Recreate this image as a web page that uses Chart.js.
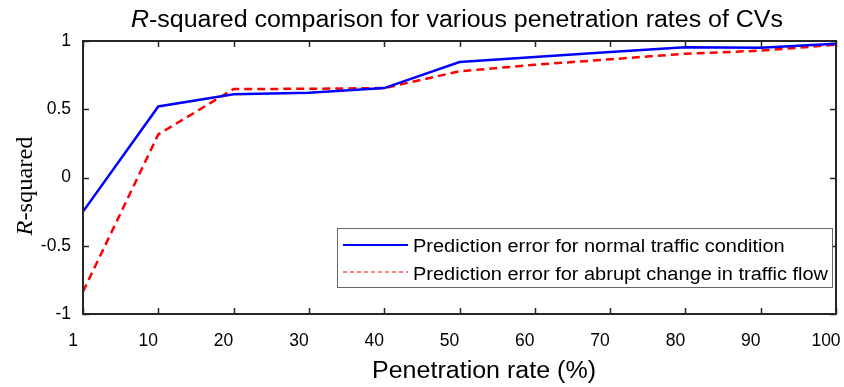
<!DOCTYPE html>
<html>
<head>
<meta charset="utf-8">
<script src="https://cdn.jsdelivr.net/npm/chart.js@4.4.1/dist/chart.umd.min.js"></script>
<style>
    html, body { margin: 0; padding: 0; background: #fff; }
    #wrap { width: 844px; height: 387px; position: relative; }
</style>
</head>
<body>
<div id="wrap"><canvas id="rsqChart"></canvas></div>

<script>
    // penetration rates (%) and R-squared values
    const rates = ["1", "10", "20", "30", "40", "50", "60", "70", "80", "90", "100"]
    const normalTraffic = [-0.25, 0.52, 0.61, 0.62, 0.655, 0.846, 0.883, 0.919, 0.954, 0.950, 0.980]
    const abruptChange = [-0.837, 0.316, 0.648, 0.650, 0.655, 0.778, 0.826, 0.866, 0.907, 0.929, 0.973]
    const seriesNames = ["Prediction error for normal traffic condition", "Prediction error for abrupt change in traffic flow"]
    const yTicks = [-1, -0.5, 0, 0.5, 1]

    const AXIS = "#262626"
    const SANS = "'Liberation Sans', Arial, sans-serif"
    const SERIF = "'Liberation Serif', 'Times New Roman', serif"

    // draws a run of [text, italic] parts centred on (cx, cy), squeezed/stretched to a width
    const drawParts = (ctx, parts, size, family, cx, cy, width) => {
        const widths = parts.map(([t, it]) => {
            ctx.font = (it ? "italic " : "") + size + "px " + family
            return ctx.measureText(t).width
        })
        const total = widths.reduce((a, b) => a + b, 0)
        const k = width ? width / total : 1
        ctx.save()
        ctx.translate(cx - total * k / 2, cy)
        ctx.scale(k, 1)
        ctx.textAlign = "left"
        ctx.textBaseline = "middle"
        let x = 0
        parts.forEach(([t, it], i) => {
            ctx.font = (it ? "italic " : "") + size + "px " + family
            ctx.fillText(t, x, 0)
            x += widths[i]
        })
        ctx.restore()
    }

    // frame, inward ticks, titles and the in-plot legend
    const decorations = {
        id: "decorations",
        afterDatasetsDraw(chart) {
            const { ctx, chartArea: a, scales } = chart
            ctx.save()
            ctx.strokeStyle = AXIS
            ctx.lineWidth = 2
            ctx.strokeRect(a.left, a.top, a.right - a.left, a.bottom - a.top)

            ctx.lineWidth = 1.5
            ctx.beginPath()
            scales.x.ticks.forEach((t, i) => {
                const px = Math.round(scales.x.getPixelForTick(i)) + 0.5
                ctx.moveTo(px, a.bottom); ctx.lineTo(px, a.bottom - 6)
                ctx.moveTo(px, a.top); ctx.lineTo(px, a.top + 6)
            })
            yTicks.forEach(v => {
                const py = Math.round(scales.y.getPixelForValue(v)) + 0.5
                ctx.moveTo(a.left, py); ctx.lineTo(a.left + 6, py)
                ctx.moveTo(a.right, py); ctx.lineTo(a.right - 6, py)
            })
            ctx.stroke()

            ctx.fillStyle = "#000"
            // title
            drawParts(ctx, [["R", true], ["-squared comparison for various penetration rates of CVs", false]],
                23, SANS, 457, 21, 652)
            // x axis title
            drawParts(ctx, [["Penetration rate (%)", false]], 23, SANS, 484, 372, 224)
            // y axis title
            ctx.save()
            ctx.translate(26, 186)
            ctx.rotate(-Math.PI / 2)
            drawParts(ctx, [["R", true], ["-squared", false]], 24, SERIF, 0, 0, 99)
            ctx.restore()

            // legend box
            const lx = 337, ly = 228, lw = 495, lh = 59
            ctx.fillStyle = "#fff"
            ctx.fillRect(lx, ly, lw, lh)
            ctx.strokeStyle = "#666"
            ctx.lineWidth = 1
            ctx.strokeRect(lx + 0.5, ly + 0.5, lw, lh)
            ctx.fillStyle = "#000"
            chart.data.datasets.forEach((ds, i) => {
                const yy = ly + 17 + i * 27
                ctx.beginPath()
                ctx.strokeStyle = ds.borderColor
                ctx.lineWidth = i === 0 ? 2 : 1
                ctx.setLineDash(i === 0 ? [] : [4, 3])
                ctx.moveTo(lx + 6, yy); ctx.lineTo(lx + 71, yy)
                ctx.stroke()
                ctx.setLineDash([])
            })
            ctx.font = "18px " + SANS
            const k = 415 / ctx.measureText(seriesNames[1]).width
            chart.data.datasets.forEach((ds, i) => {
                ctx.font = "18px " + SANS
                const w = ctx.measureText(ds.label).width * k
                drawParts(ctx, [[ds.label, false]], 18, SANS, lx + 76 + w / 2, ly + 19 + i * 28, w)
            })
            ctx.restore()
        }
    }

    new Chart(rsqChart, {
        type: "line",
        data: {
            labels: rates,
            datasets: [{
                label: seriesNames[0],
                data: normalTraffic,
                borderColor: "#0000ff",
                borderWidth: 2.5,
                pointRadius: 0,
                tension: 0
            }, {
                label: seriesNames[1],
                data: abruptChange,
                borderColor: "#ff0000",
                borderWidth: 2.5,
                borderDash: [8, 5],
                pointRadius: 0,
                tension: 0
            }]
        },
        options: {
            responsive: true,
            maintainAspectRatio: false,
            animation: false,
            layout: { padding: { top: 41, right: 8, left: 0, bottom: 0 } },
            plugins: {
                legend: { display: false },
                tooltip: { enabled: false }
            },
            scales: {
                x: {
                    type: "category",
                    offset: false,
                    grid: { display: false },
                    border: { display: false },
                    ticks: {
                        color: "#000",
                        font: { family: SANS, size: 17.5 },
                        padding: 9,
                        labelOffset: -10,
                        maxRotation: 0,
                        autoSkip: false
                    },
                    afterFit: s => {
                        s.height = 73
                        s.paddingLeft = 0
                        s.paddingRight = 0
                    }
                },
                y: {
                    min: -1,
                    max: 1,
                    grid: { display: false },
                    border: { display: false },
                    afterBuildTicks: s => { s.ticks = yTicks.map(v => ({ value: v })) },
                    ticks: {
                        color: "#000",
                        font: { family: SANS, size: 17.5 },
                        padding: 4,
                        callback: v => String(v)
                    },
                    afterFit: s => {
                        s.width = 83
                        s.paddingTop = 0
                        s.paddingBottom = 0
                    }
                }
            }
        },
        plugins: [decorations]
    })
</script>
</body>
</html>
